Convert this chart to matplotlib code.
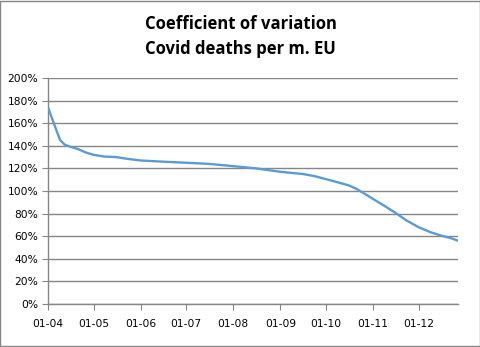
import numpy as np
import pandas as pd
import matplotlib
matplotlib.use("Agg")
import matplotlib.pyplot as plt
from matplotlib.ticker import FuncFormatter

days = [0, 3, 6, 8, 11, 15, 20, 25, 30, 37, 45, 52, 61, 75, 91, 106, 122, 137,
        153, 168, 176, 183, 190, 198, 203, 208, 214, 222, 229, 236, 244, 252,
        259, 266, 270]
cv = [174, 163, 152, 145, 141, 139, 137, 134, 132, 130.5, 130, 128.5, 127, 126,
      125, 124, 122, 120, 117, 115, 113, 110.5, 108, 105, 102, 98, 93, 86.5,
      80.5, 74, 68, 63.5, 60.5, 58, 56]
tick_labels = ['01-04', '01-05', '01-06', '01-07', '01-08', '01-09', '01-10', '01-11', '01-12']

start = pd.Timestamp('2020-04-01')
dates = [start + pd.Timedelta(days=d) for d in days]
tick_dates = [pd.Timestamp('2020-%s-01' % t[3:]) for t in tick_labels]

fig = plt.figure(figsize=(4.81, 3.47), dpi=100)
ax = fig.add_axes([48/481, 43/347, 410/481, 226/347])

grid_col = '#868686'
ax.plot(dates, cv, color='#5B9BD5', lw=1.7, zorder=3)

ax.set_ylim(0, 200)
ax.set_yticks(np.arange(0, 201, 20))
ax.yaxis.set_major_formatter(FuncFormatter(lambda v, p: '%d%%' % v))
ax.set_xlim(start, start + pd.Timedelta(days=days[-1]))
ax.set_xticks(tick_dates)
ax.set_xticklabels(tick_labels)

ax.grid(axis='y', color=grid_col, lw=1)
ax.set_axisbelow(True)
for s in ['top', 'right']:
    ax.spines[s].set_visible(False)
for s in ['left', 'bottom']:
    ax.spines[s].set_color(grid_col)
    ax.spines[s].set_linewidth(1)
ax.tick_params(axis='both', direction='out', length=4, color=grid_col,
               labelsize=7.7, labelcolor='black')
ax.tick_params(axis='y', pad=3)
ax.tick_params(axis='x', pad=7)

fig.text(0.5, 1 - 24/347, 'Coefficient of variation', ha='center', va='center',
         fontsize=12, fontweight='bold', family='Open Sans')
fig.text(0.5, 1 - 49/347, 'Covid deaths per m. EU', ha='center', va='center',
         fontsize=12, fontweight='bold', family='Open Sans')

# Rahmen ums Diagramm
fig.patches.append(plt.Rectangle((0.001, 0.002), 0.997, 0.996, transform=fig.transFigure,
                                 fill=False, edgecolor='#868686', lw=1))

fig.savefig('out.png', dpi=100)
